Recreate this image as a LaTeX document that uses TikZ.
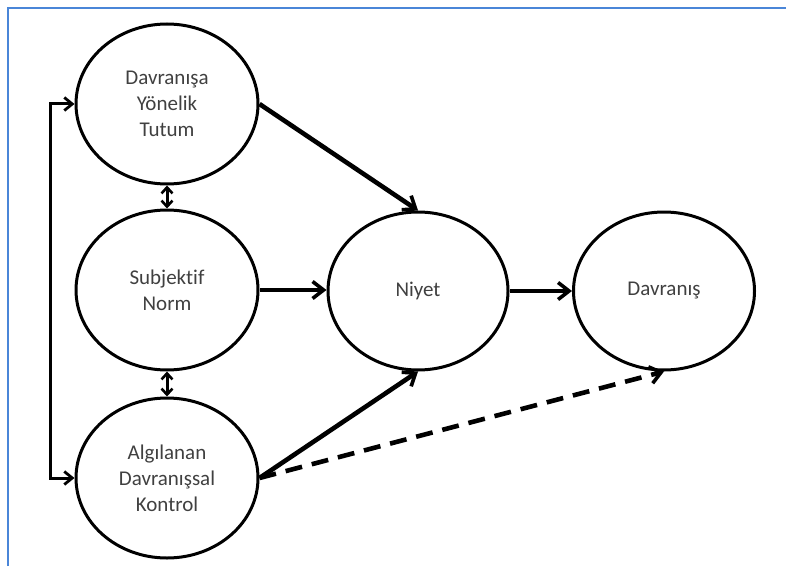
\documentclass[tikz,border=0pt]{standalone}
\usepackage{fontspec}
\setmainfont[Ligatures=NoCommon]{Carlito}
\usetikzlibrary{shapes.geometric,arrows.meta}
\definecolor{frameblue}{HTML}{4A86D8}
\definecolor{txtgray}{HTML}{404040}
\tikzset{
  oval/.style={ellipse, draw=black, line width=3pt, minimum width=182pt, minimum height=160pt,
    inner sep=0pt, align=center, text=txtgray, font=\fontsize{21}{26}\selectfont},
  mainarrow/.style={line width=4.6pt, -{Straight Barb[length=11pt,width=17pt,line width=3.6pt]}},
  thinarrow/.style={line width=3pt, {Straight Barb[length=8pt,width=13pt,line width=2.8pt]}-{Straight Barb[length=8pt,width=13pt,line width=2.8pt]}},
  shortarrow/.style={line width=3pt, {Straight Barb[length=6pt,width=11pt,line width=2.6pt]}-{Straight Barb[length=6pt,width=11pt,line width=2.6pt]}},
  dasharrow/.style={line width=4.6pt, dash pattern=on 17pt off 10pt, -{Straight Barb[length=11pt,width=17pt,line width=3.6pt]}}
}
\begin{document}
\begin{tikzpicture}[x=1pt,y=-1pt]
\useasboundingbox (0,0) rectangle (786,567);
\draw[frameblue, line width=1.4pt] (8,566) -- (8,8) -- (786,8);
\node[oval] (tutum) at (167,104) {Davranışa\\Yönelik\\Tutum};
\node[oval] (norm) at (167,290) {Subjektif\\Norm};
\node[oval] (kontrol) at (167,478) {Algılanan\\Davranışsal\\Kontrol};
\node[oval, minimum width=180pt, minimum height=158pt] (niyet) at (418,291) {Niyet};
\node[oval, minimum width=181pt, minimum height=158pt] (davranis) at (664,291) {Davranış};
\draw[mainarrow] (tutum.east) -- (niyet.north);
\draw[mainarrow] (norm.east) -- (norm.east -| niyet.west);
\draw[mainarrow] (kontrol.east) -- (niyet.south);
\draw[mainarrow] (niyet.east) -- (davranis.west);
\draw[dasharrow] (kontrol.east) -- (davranis.south);
\draw[shortarrow] (tutum.south) -- (norm.north);
\draw[shortarrow] (norm.south) -- (kontrol.north);
\draw[thinarrow] (tutum.west) -- ++(-24,0) |- (kontrol.west);
\end{tikzpicture}
\end{document}
